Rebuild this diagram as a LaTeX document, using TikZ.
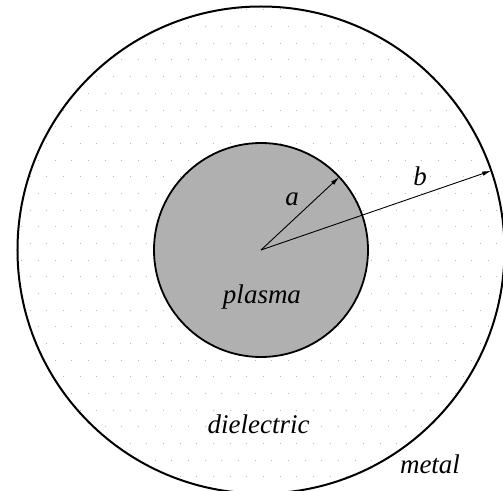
\documentclass[tikz,border=0pt]{standalone}
\usepackage{fontspec}
\setmainfont{Liberation Serif}
\usepackage{tikz}
\usetikzlibrary{arrows.meta, backgrounds}
\tikzset{
  wallc/.style={circle, draw=black, line width=2pt, inner sep=0pt,
                outer sep=0pt, minimum size=487pt},
  corec/.style={circle, draw=black, fill=black!31, line width=1.8pt,
                inner sep=0pt, outer sep=0pt, minimum size=214pt},
  arr/.style={-{Latex[length=9pt,width=4.5pt]}, line width=0.9pt},
  lbl/.style={font=\fontsize{27}{30}\selectfont\itshape, anchor=base, inner sep=0pt},
  gdot/.style={fill=black!28},
}

\begin{document}
\begin{tikzpicture}[x=1pt, y=1pt]
  \useasboundingbox (-261,-240) rectangle (242,250);

  % ── Regions ────────────────────────────────────────────────────────────────
  \coordinate (o) at (0,0);
  \node[wallc] at (o) (wall) {};
  \node[corec] at (o) (core) {};

  % ── Dot pattern of the dielectric ──────────────────────────────────────────
  \begin{scope}[on background layer]
    \clip (o) circle (242.5);
    \foreach \j in {-4,...,27} {
      \pgfmathsetmacro{\xoff}{isodd(\j) ? 8.33 : 0}
      \foreach \i in {-8,...,23} {
        \fill[gdot] (-139.3 + 16.67*\i + \xoff - 0.5, 190 - 16.67*\j - 0.5)
          rectangle ++(1,1);
      }
    }
  \end{scope}

  % ── Radii ──────────────────────────────────────────────────────────────────
  \draw[arr] (o) -- (core.43.5);
  \draw[arr] (o) -- (wall.19.3);

  % ── Labels ─────────────────────────────────────────────────────────────────
  \node[lbl] at (31, 45)      (la)   {a};
  \node[lbl] at (159, 65)     (lb)   {b};
  \node[lbl] at (1, -53)      (lpl)  {plasma};
  \node[lbl] at (-2.5, -183)  (ldi)  {dielectric};
  \node[lbl] at (169, -223)   (lme)  {metal};
\end{tikzpicture}
\end{document}
